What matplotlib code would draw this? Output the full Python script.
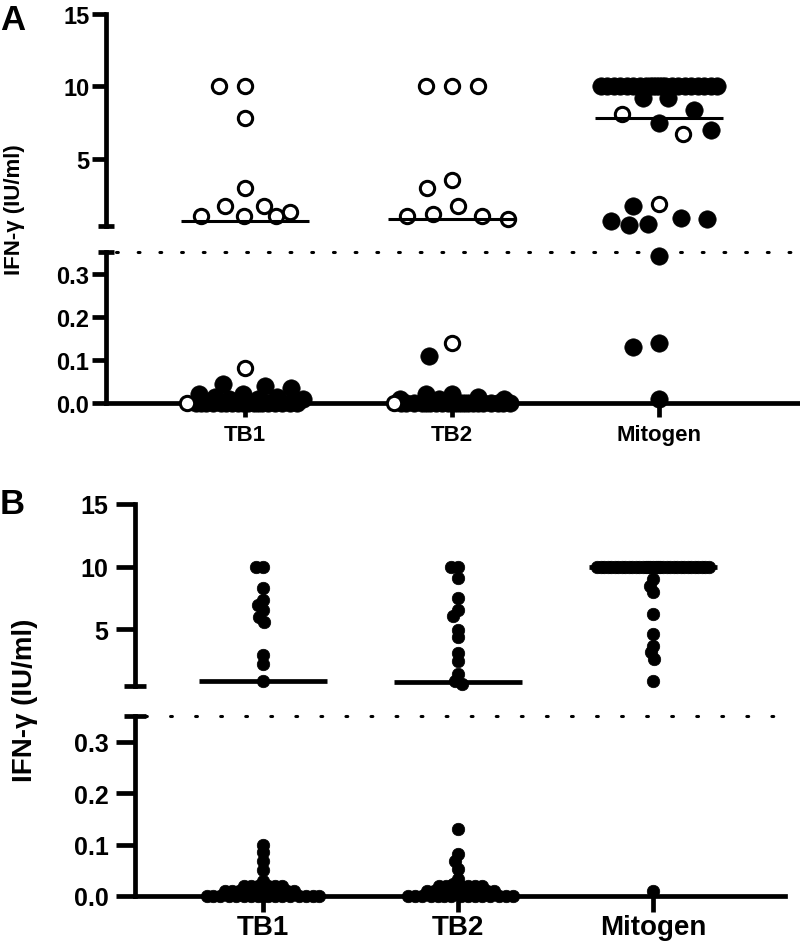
import matplotlib

matplotlib.use("Agg")
import matplotlib.pyplot as plt
import numpy as np

plt.rcParams["font.family"] = ["Liberation Sans", "DejaVu Sans"]
plt.rcParams["font.weight"] = "bold"

W_PX, H_PX = 800, 953
GROUPS = ["TB1", "TB2", "Mitogen"]
BREAK = 0.35

# ── panel A: open circles vs filled circles ──────
A_TB1_OPEN = [10.0, 10.0, 7.8, 2.95, 1.75, 1.7, 1.35, 1.05, 1.05, 1.05, 0.08, 0.0]
A_TB1_FILLED = [0.045, 0.04, 0.035, 0.02, 0.02, 0.015, 0.015, 0.01, 0.01, 0.01] + [0.0] * 18
A_TB2_OPEN = [10.0, 10.0, 10.0, 3.5, 2.95, 1.75, 1.2, 1.05, 1.05, 0.8, 0.14, 0.0]
A_TB2_FILLED = [0.11, 0.02, 0.02, 0.015, 0.01, 0.01, 0.01] + [0.0] * 21
A_MIT_OPEN = [8.1, 6.7, 1.9]
A_MIT_FILLED = [10.0] * 22 + [9.2, 9.2, 8.4, 7.5, 7.0, 1.7, 0.93, 0.8, 0.72,
                              0.52, 0.45, 0.34, 0.14, 0.13, 0.01]
A_LINES = [0.73, 0.8, 7.8]

# ── panel B: all filled ──────────────────────────
B_TB1 = [10.0, 10.0, 8.3, 7.3, 6.9, 6.5, 6.0, 5.6, 2.9, 2.2, 0.85,
         0.1, 0.085, 0.068, 0.05, 0.03] + [0.02] * 6 + [0.01] * 6 + [0.0] * 17
B_TB2 = [10.0, 10.0, 9.05, 7.45, 6.5, 6.07, 4.92, 4.33, 3.08, 2.47, 1.4, 0.87, 0.6,
         0.13, 0.082, 0.069, 0.052, 0.033, 0.023] + [0.02] * 6 + [0.01] * 5 + [0.0] * 15
B_MIT = [10.0] * 35 + [9.0, 8.47, 7.93, 6.2, 4.6, 3.67, 3.13, 2.6, 0.87, 0.01]
B_LINES = [0.84, 0.76, 10.0]


def swarm(ypix, dmin, wmax):
    """Greedy beeswarm in pixel space; crowded rows get squeezed into +-wmax."""
    ypix = np.asarray(ypix, float)
    cand = np.arange(-wmax, wmax + 0.5, 1.0)
    xs = np.zeros(len(ypix))
    placed = []
    for i in np.argsort(-ypix, kind="stable"):
        if placed:
            px, py = xs[placed], ypix[placed]
            d = np.hypot(cand[:, None] - px[None, :], ypix[i] - py[None, :]).min(axis=1)
        else:
            d = np.full(len(cand), np.inf)
        ok = d >= dmin
        if ok.any():
            j = np.argmin(np.where(ok, np.abs(cand), np.inf))
        else:
            j = np.argmax(d - 0.01 * np.abs(cand))
        xs[i] = cand[j]
        placed.append(i)
    return xs


fig = plt.figure(figsize=(W_PX / 100, H_PX / 100), dpi=100)


def add_ax(left, top, right, bottom):
    return fig.add_axes([left / W_PX, 1 - bottom / H_PX,
                         (right - left) / W_PX, (bottom - top) / H_PX])


def draw_panel(boxes, ylim_up, xlim, groups, lines, st):
    ax_up = add_ax(*boxes[0])
    ax_lo = add_ax(*boxes[1])
    for ax in (ax_up, ax_lo):
        ax.set_xlim(*xlim)
        for s in ("top", "right"):
            ax.spines[s].set_visible(False)
        for s in ("left", "bottom"):
            ax.spines[s].set_linewidth(st["lw"])
        ax.tick_params(axis="y", width=st["lw"], length=st["ylen"], pad=st["ypad"],
                       labelsize=st["yfs"])
        ax.tick_params(axis="x", width=st["lw"], length=st["xlen"], pad=st["xpad"],
                       labelsize=st["xfs"])
    ax_up.set_ylim(*ylim_up)
    ax_up.spines["bottom"].set_visible(False)
    ax_up.set_xticks([])
    ax_up.set_yticks([5, 10, 15])
    ax_lo.set_ylim(0, BREAK)
    ax_lo.set_yticks([0, 0.1, 0.2, 0.3])
    ax_lo.set_yticklabels(["0.0", "0.1", "0.2", "0.3"])
    ax_lo.set_xticks([1, 2, 3])
    ax_lo.set_xticklabels(GROUPS)

    # break caps + dotted break line
    ax_up.plot([0], [0], marker="_", ms=st["cap"], mew=st["lw"], color="black",
               transform=ax_up.transAxes, clip_on=False)
    ax_lo.plot([0], [1], marker="_", ms=st["cap"], mew=st["lw"], color="black",
               transform=ax_lo.transAxes, clip_on=False)
    ax_lo.axhline(BREAK, xmin=0.015, xmax=1, color="black", lw=2.2,
                  ls=(0, (0.6, st["dot_gap"])), dash_capstyle="round", clip_on=False)

    ppu = ax_lo.transData.transform((1, 0))[0] - ax_lo.transData.transform((0, 0))[0]
    for gi, (opens, filled) in enumerate(groups):
        vals = np.array(list(opens) + list(filled), float)
        is_open = np.array([True] * len(opens) + [False] * len(filled))
        up = vals >= BREAK
        ypix = np.array([(ax_up if u else ax_lo).transData.transform((0, v))[1]
                         for v, u in zip(vals, up)])
        off = swarm(ypix, st["dmin"], st["wmax"])
        # open points tied with filled ones go to the left end of their row
        for k in np.where(is_open)[0]:
            tied = np.where((vals == vals[k]) & ~is_open)[0]
            if len(tied):
                m = tied[np.argmin(off[tied])]
                if off[m] < off[k]:
                    off[k], off[m] = off[m], off[k]
        xs = gi + 1 + off / ppu
        for ax, m in ((ax_up, up), (ax_lo, ~up)):
            f = m & ~is_open
            ax.plot(xs[f], vals[f], "o", ms=st["ms"], color="black", mec="black",
                    mew=0.5, clip_on=False, zorder=3)
            o = m & is_open
            ax.plot(xs[o], vals[o], "o", ms=st["ms"] - 2.2, mfc="white", mec="black",
                    mew=2.2, clip_on=False, zorder=4)
        ax = ax_up if lines[gi] >= BREAK else ax_lo
        ax.hlines(lines[gi], gi + 1 - st["half"], gi + 1 + st["half"], color="black",
                  lw=st["mlw"], zorder=5)
    return ax_up, ax_lo


style_a = dict(lw=3.4, ylen=10, xlen=10, ypad=2, xpad=5, yfs=17, xfs=16, cap=12,
               dot_gap=6.5, ms=12.5, dmin=26, wmax=58, half=0.31, mlw=2.2)
style_b = dict(lw=3.4, ylen=14, xlen=11.5, ypad=5, xpad=1.5, yfs=18, xfs=20, cap=16,
               dot_gap=7.6, ms=9, dmin=7, wmax=56, half=0.33, mlw=3.4)

draw_panel([(106, 15, 800, 227), (106, 253, 800, 404)], (0.35, 15), (0.3285, 3.681),
           [(A_TB1_OPEN, A_TB1_FILLED), (A_TB2_OPEN, A_TB2_FILLED),
            (A_MIT_OPEN, A_MIT_FILLED)], A_LINES, style_a)
draw_panel([(135, 505, 785, 687), (135, 717, 785, 897)], (0.44, 15), (0.344, 3.677),
           [([], B_TB1), ([], B_TB2), ([], B_MIT)], B_LINES, style_b)

fig.text(0 / W_PX, 1 - 4 / H_PX, "A", fontsize=25, va="top", ha="left")
fig.text(0 / W_PX, 1 - 488 / H_PX, "B", fontsize=25, va="top", ha="left")
fig.text(15 / W_PX, 1 - 210 / H_PX, "IFN-γ (IU/ml)", fontsize=16, rotation=90,
         ha="center", va="center")
fig.text(25 / W_PX, 1 - 700 / H_PX, "IFN-γ (IU/ml)", fontsize=20, rotation=90,
         ha="center", va="center")

fig.savefig("out.png", dpi=100)
